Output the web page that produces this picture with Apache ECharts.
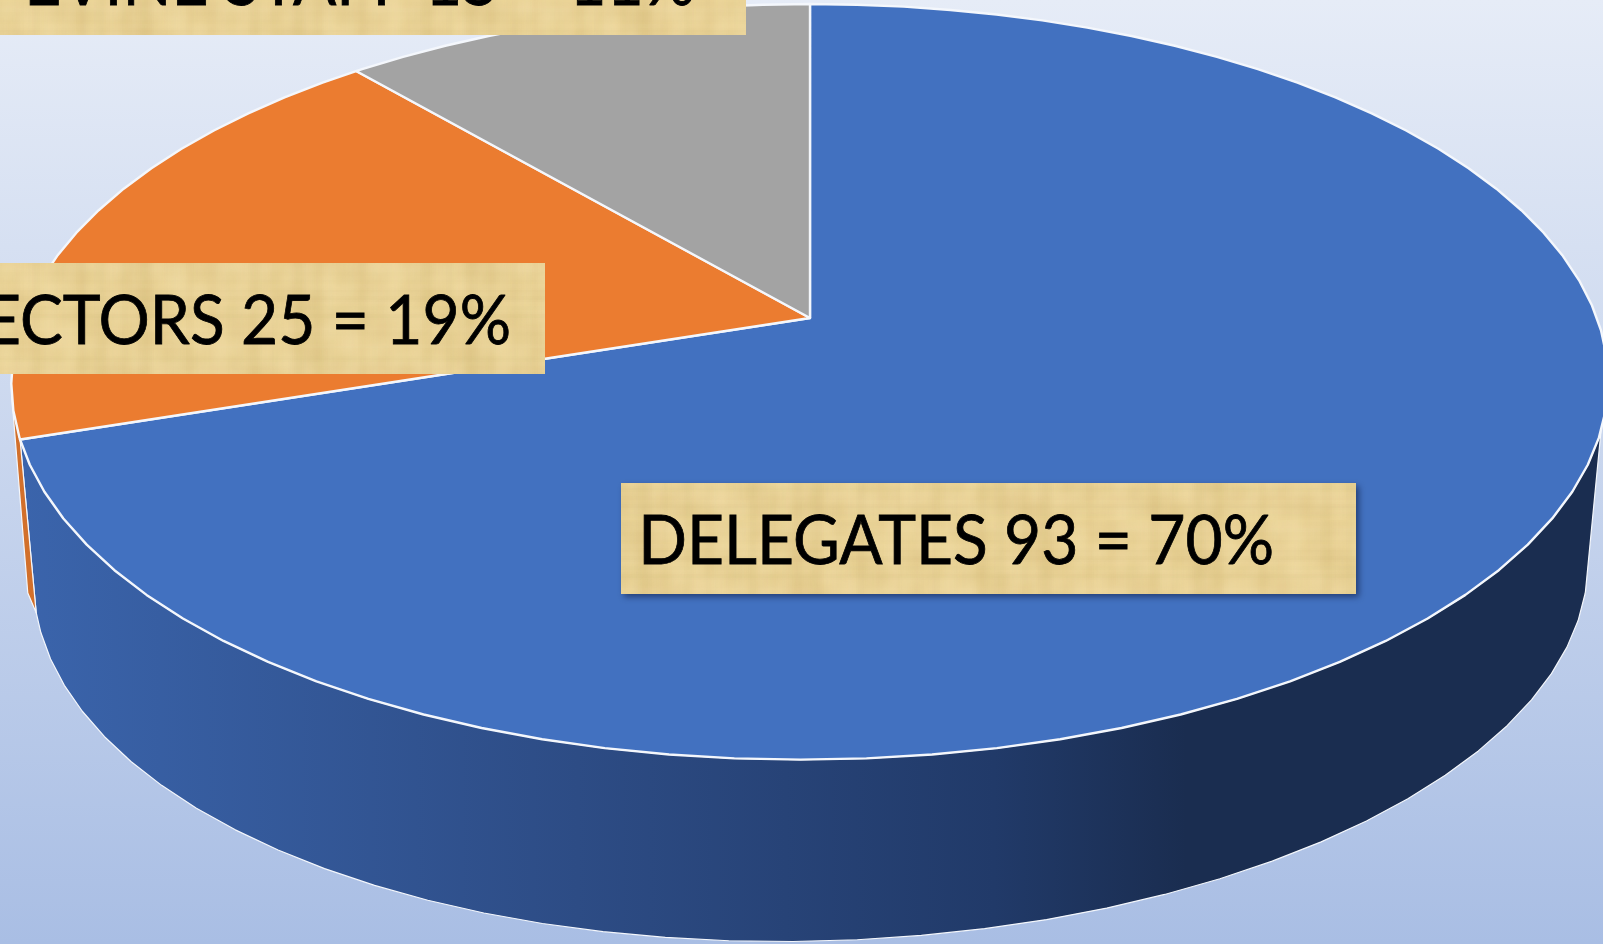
<!DOCTYPE html>
<html>
<head>
<meta charset="utf-8">
<title>Attendance</title>
<style>
html, body { margin: 0; padding: 0; overflow: hidden; }
#chart { width: 1603px; height: 944px; }
</style>
<script src="https://cdn.jsdelivr.net/npm/echarts@6/dist/echarts.min.js"></script>
</head>
<body>
<div id="chart"></div>
<script>
// clockwise from 12 o'clock
const categories = ['DELEGATES', 'DIRECTORS', 'GRAPEVINE STAFF']
const values = [93, 25, 15]
const sliceColors = ['#4271c0', '#eb7c30', '#a3a3a3']
const total = values.reduce((a, b) => a + b, 0)

// tilted disc: top face and underside, each a circle seen in perspective
const topFace = { cx: 810, cy: 318, w: 787, k: 367, p: 0.169, lean: -8, tilt: 0 }
const bottomFace = { cx: 811, cy: 509.5, w: 766, k: 359, p: 0.169, lean: -15, tilt: -6 }
// the thin orange sliver of rim sits just outside the underside outline
const sliverFace = { cx: 805, cy: 509.5, w: 766, k: 359, p: 0.169, lean: -15, tilt: -6 }
// part of the rim the viewer can see, degrees clockwise from the top
const rimTop = [107, 258]
const rimBottom = [103.6, 255, 258]

function project(face, deg) {
    const t = deg * Math.PI / 180
    const u = Math.sin(t)
    const v = -Math.cos(t)
    const d = 1 - face.p * v
    const lean = v > 0 ? face.lean * v * v : 0
    return [face.cx + (face.w * u + lean) / d, face.cy + (face.k * v + face.tilt * u) / d]
}

function arc(face, from, to) {
    const pts = [project(face, from)]
    for (let a = Math.ceil(from / 4) * 4; a < to; a += 4) {
        if (a > from) pts.push(project(face, a))
    }
    pts.push(project(face, to))
    return pts
}

function sliceRange(index) {
    let sum = 0
    for (let i = 0; i < index; i++) sum += values[i]
    return [sum / total * 360, (sum + values[index]) / total * 360]
}

function renderCap(params, api) {
    const range = sliceRange(params.dataIndex)
    const pts = [[topFace.cx, topFace.cy]].concat(arc(topFace, range[0], range[1]))
    return {
        type: 'polygon',
        shape: { points: pts },
        style: { fill: sliceColors[params.dataIndex], stroke: '#f4f7fc', lineWidth: 2.4, lineJoin: 'round' }
    }
}

const blueWall = new echarts.graphic.LinearGradient(0, 0, 1603, 0, [
    { offset: 0, color: '#3b65ad' },
    { offset: 0.36, color: '#2d4c85' },
    { offset: 0.62, color: '#213a69' },
    { offset: 0.74, color: '#1a2d50' },
    { offset: 1, color: '#1a2d50' }
], true)
const wallFills = [blueWall, '#d2702b']

function renderWall(params, api) {
    const i = params.dataIndex
    if (i > 1) return null
    const range = sliceRange(i)
    const pts = i === 0
        ? arc(topFace, rimTop[0], range[1]).concat(arc(bottomFace, rimBottom[0], rimBottom[1]).reverse())
        : arc(topFace, range[0], rimTop[1]).concat([project(sliverFace, rimBottom[2]), project(bottomFace, rimBottom[1])])
    return {
        type: 'polygon',
        shape: { points: pts },
        style: { fill: wallFills[i], stroke: '#f4f7fc', lineWidth: 1.2, lineJoin: 'round' }
    }
}

// papyrus look for the label boxes
function papyrus() {
    const c = document.createElement('canvas')
    c.width = 900
    c.height = 130
    const g = c.getContext('2d')
    const b = document.createElement('canvas')
    b.width = c.width
    b.height = c.height
    const bg = b.getContext('2d')
    // soft blotches, blurred below
    for (let x = 0; x < c.width; x += 8) {
        for (let y = 0; y < c.height; y += 8) {
            const s = Math.sin(x * 0.021 + y * 0.05) * Math.sin(x * 0.067 - y * 0.09 + 1.1) + Math.sin(x * 0.17 + y * 0.23) * 0.4
            bg.fillStyle = s > 0 ? '#f0dba6' : '#e0c78a'
            bg.globalAlpha = 0.15 + Math.abs(s) * 0.3
            bg.fillRect(x, y, 8, 8)
        }
    }
    g.fillStyle = '#e9d295'
    g.fillRect(0, 0, c.width, c.height)
    g.filter = 'blur(4px)'
    g.drawImage(b, 0, 0)
    g.filter = 'none'
    for (let x = 0; x < c.width; x += 2) {
        const s = Math.sin(x * 0.037) + Math.sin(x * 0.113 + 1.3) + Math.sin(x * 0.29 + 0.4)
        g.fillStyle = s > 0 ? 'rgba(247,228,178,' + (s * 0.06) + ')' : 'rgba(196,168,96,' + (-s * 0.06) + ')'
        g.fillRect(x, 0, 2, c.height)
    }
    for (let y = 0; y < c.height; y += 2) {
        const s = Math.sin(y * 0.09 + 0.7) + Math.sin(y * 0.31) + Math.sin(y * 0.73 + 2.1)
        g.fillStyle = s > 0 ? 'rgba(248,230,180,' + (s * 0.03) + ')' : 'rgba(190,165,100,' + (-s * 0.03) + ')'
        g.fillRect(0, y, c.width, 2)
    }
    return c
}
const paper = { image: papyrus(), repeat: 'repeat' }

function labelText(i) {
    return categories[i] + ' ' + values[i] + ' = ' + Math.round(values[i] / total * 100) + '%'
}

function labelBox(i, box, textRight, baseline, shadow) {
    const rect = {
        type: 'rect',
        z: 50,
        shape: box,
        style: { fill: paper }
    }
    if (shadow) {
        rect.style.shadowColor = 'rgba(15,30,70,0.6)'
        rect.style.shadowBlur = 6
        rect.style.shadowOffsetX = 3
        rect.style.shadowOffsetY = 3
    }
    const text = {
        type: 'text',
        z: 51,
        x: textRight,
        y: baseline,
        scaleX: 0.956,
        style: {
            text: labelText(i),
            font: '67px Lato',
            fill: '#000',
            stroke: '#000',
            lineWidth: 0.8,
            align: 'right',
            verticalAlign: 'bottom',
            lineHeight: 80
        }
    }
    return [rect, text]
}

const chart = echarts.init(document.getElementById('chart'), null, { renderer: 'canvas' })
chart.setOption({
    animation: false,
    backgroundColor: new echarts.graphic.LinearGradient(0, 0, 0, 1, [
        { offset: 0, color: '#e6ecf7' },
        { offset: 1, color: '#a9bee4' }
    ]),
    tooltip: { show: false },
    series: [
        { type: 'custom', coordinateSystem: 'none', z: 2, silent: true, data: values, renderItem: renderWall },
        { type: 'custom', coordinateSystem: 'none', z: 3, silent: true, data: values, renderItem: renderCap }
    ],
    graphic: [].concat(
        labelBox(2, { x: -10, y: -60, width: 756, height: 95 }, 695, 23),
        labelBox(1, { x: -10, y: 263, width: 555, height: 111 }, 511, 362),
        labelBox(0, { x: 621, y: 483, width: 735, height: 111 }, 1274, 582, true)
    )
})
</script>
</body>
</html>
